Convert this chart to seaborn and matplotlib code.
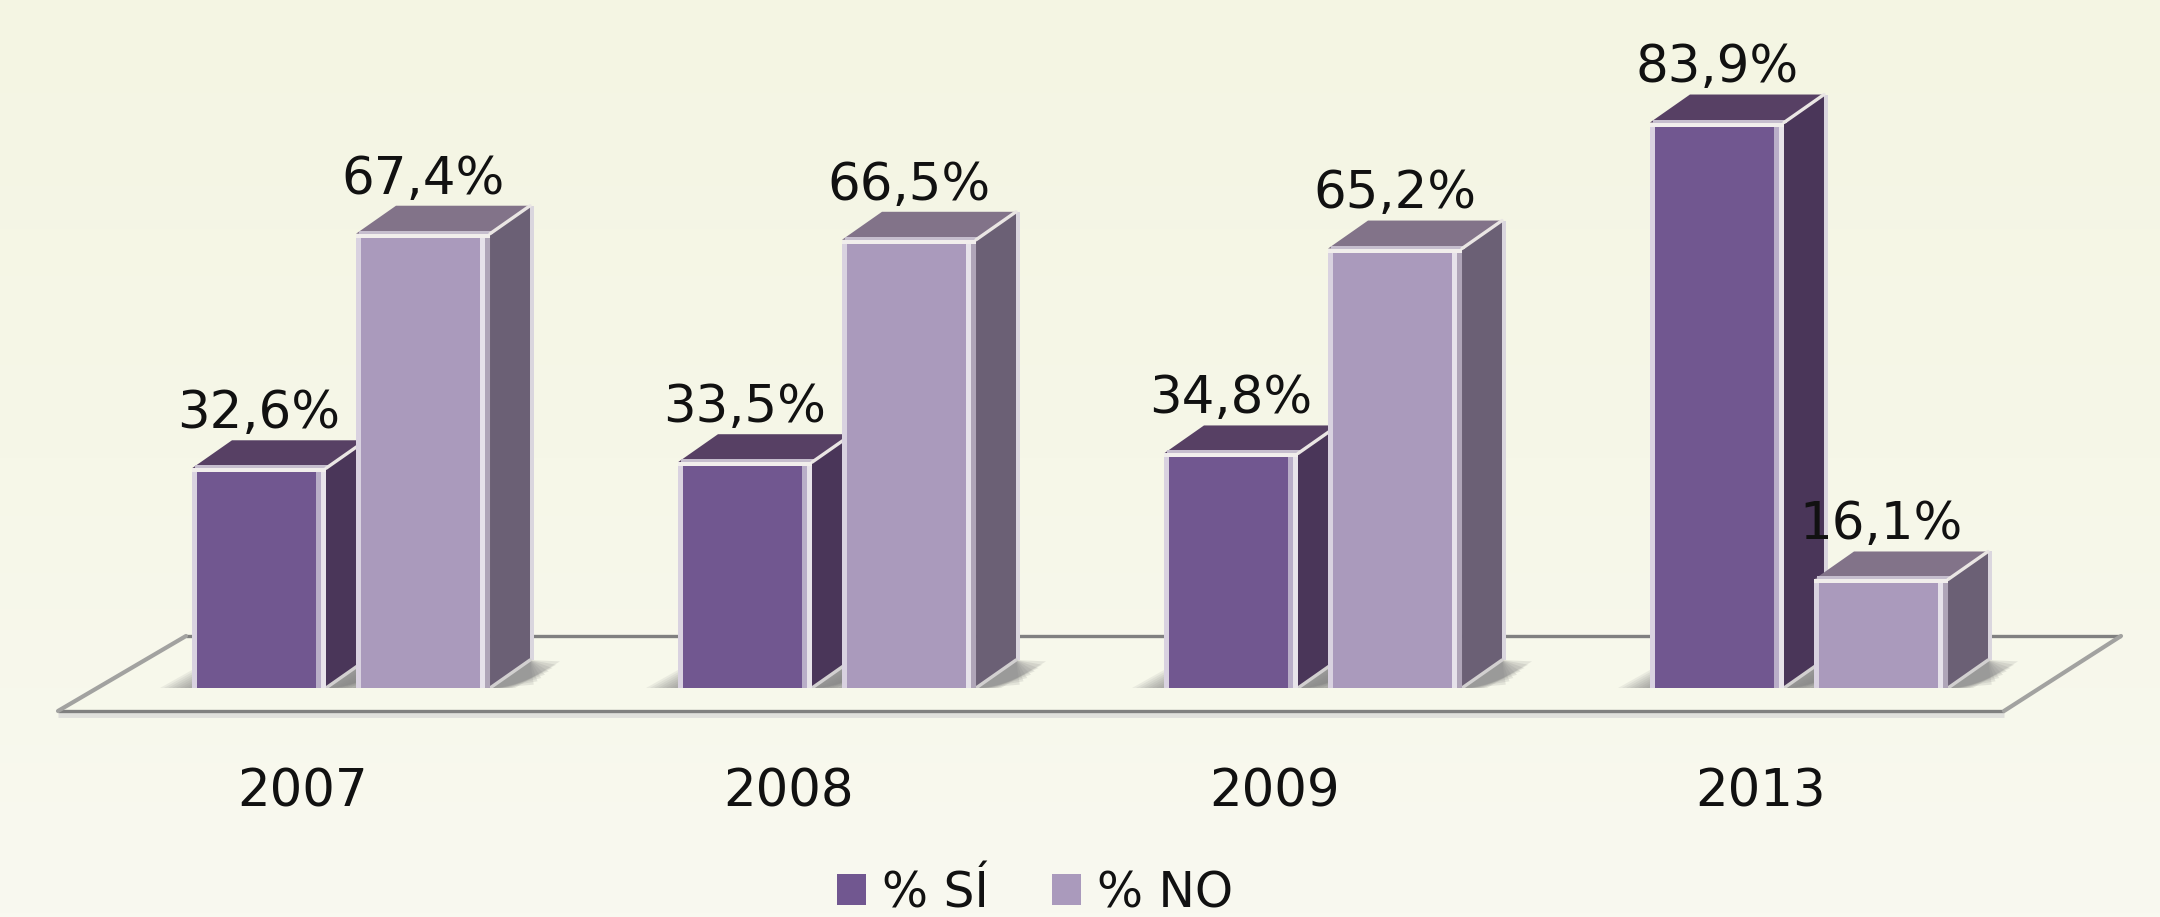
import numpy as np
import pandas as pd
import seaborn as sns
import matplotlib
matplotlib.use("Agg")
import matplotlib.pyplot as plt
from matplotlib.colors import LinearSegmentedColormap
from matplotlib.patches import Polygon, Rectangle

years = ["2007", "2008", "2009", "2013"]
si_values = [32.6, 33.5, 34.8, 83.9]
no_values = [67.4, 66.5, 65.2, 16.1]
series_names = ["% SÍ", "% NO"]

W, H, DPI = 2160, 917, 100
BASE_PX = 688
PX_PER_UNIT = 6.74
PX_PER_CAT = 486
CENTER0_PX = 341
PX = 1 / PX_PER_CAT
PY = 1 / PX_PER_UNIT
DX, DY = 40 * PX, 28 * PY

sns.set_theme(style="white")
plt.rcParams["font.family"] = ["DejaVu Sans"]

df = pd.DataFrame({
    "year": years * 2,
    "value": si_values + no_values,
    "series": [series_names[0]] * 4 + [series_names[1]] * 4,
})

fig = plt.figure(figsize=(W / DPI, H / DPI), dpi=DPI)

# background gradient
bg = fig.add_axes([0, 0, 1, 1], zorder=0)
cmap = LinearSegmentedColormap.from_list("bg", ["#F4F5E3", "#F6F7E8", "#F9F9F0"])
bg.imshow(np.linspace(0, 1, 256)[:, None], cmap=cmap, aspect="auto")
bg.axis("off")

ax = fig.add_axes([0, (H - BASE_PX) / H, 1, BASE_PX / H], zorder=1)
ax.patch.set_alpha(0)

FRONT = {series_names[0]: "#715790", series_names[1]: "#AA9ABC"}
sns.barplot(data=df, x="year", y="value", hue="series", hue_order=series_names,
            palette=FRONT, width=0.675, gap=0.183, saturation=1, linewidth=0,
            ax=ax, legend=True)

ax.set_xlim(-CENTER0_PX / PX_PER_CAT, (W - CENTER0_PX) / PX_PER_CAT)
ax.set_ylim(0, BASE_PX / PX_PER_UNIT)
sns.despine(ax=ax, left=True, bottom=True)
ax.set_ylabel("")
ax.set_xlabel("")
ax.set_yticks([])
ax.grid(False)
ax.set_xticks([i - 38 * PX for i in range(len(years))], years)
ax.tick_params(axis="x", length=0, pad=57, labelsize=37, labelcolor="#111111")


def y_from_px(py):
    return (BASE_PX - py) * PY


def x_from_px(px):
    return (px - CENTER0_PX) * PX


# floor
floor = [(58, 711), (186, 636), (2121, 636), (2004, 711)]
ax.add_patch(Polygon([(x_from_px(a), y_from_px(b)) for a, b in floor], closed=True,
                     facecolor="#F7F8EB", edgecolor="none", zorder=0.5, clip_on=False))
ax.plot([x_from_px(58), x_from_px(2004)], [y_from_px(715)] * 2, color="#E0E0DC", lw=3.5,
        clip_on=False, zorder=0.6, solid_capstyle="butt")
ax.plot([x_from_px(58), x_from_px(2004)], [y_from_px(711)] * 2, color="#808080", lw=2.4,
        clip_on=False, zorder=0.7, solid_capstyle="butt")
ax.plot([x_from_px(186), x_from_px(2121)], [y_from_px(636)] * 2, color="#808080", lw=2.4,
        clip_on=False, zorder=0.7, solid_capstyle="butt")
for a, b in [((58, 711), (186, 636)), ((2004, 711), (2121, 636))]:
    ax.plot([x_from_px(a[0]), x_from_px(b[0])], [y_from_px(a[1]), y_from_px(b[1])],
            color="#A2A2A0", lw=3, clip_on=False, zorder=0.7)

SIDE = ["#4A3659", "#6B6075"]
TOP = ["#574064", "#827389"]
RIGHT_A = ["#B9AEC8", "#E6E2EA"]
RIGHT_B = ["#E8E4EA", "#AFA5B8"]

for s, cont in enumerate(ax.containers):
    base_z = 3 + 2 * s
    for bar in cont:
        x0, w, h = bar.get_x(), bar.get_width(), bar.get_height()
        x1 = x0 + w
        bar.set_zorder(base_z)
        # side and top faces
        ax.add_patch(Polygon([(x1, 0), (x1 + DX, DY), (x1 + DX, h + DY), (x1, h)], closed=True,
                             facecolor=SIDE[s], edgecolor="none", zorder=base_z - 0.2))
        ax.add_patch(Polygon([(x0, h), (x0 + DX, h + DY), (x1 + DX, h + DY), (x1, h)], closed=True,
                             facecolor=TOP[s], edgecolor="none", zorder=base_z - 0.2))
        # shadows at the foot
        for k in range(8):
            f = 1 - k / 8
            ax.add_patch(Polygon([(x1, 0), (x1 + DX, DY), (x1 + DX + 30 * f * PX, DY * f * 0.95),
                                  (x1 + 25 * f * PX, 0)], closed=True,
                                 facecolor="#808080", alpha=0.16, edgecolor="none", zorder=0.8))
            ax.add_patch(Polygon([(x0 - 32 * f * PX, 0), (x0, 18 * f * PY), (x0, 0)], closed=True,
                                 facecolor="#808080", alpha=0.11, edgecolor="none", zorder=0.8))
        # borders of the front face
        ax.add_patch(Rectangle((x0, 0), 5 * PX, h, facecolor="#D9D2E0", edgecolor="none", zorder=base_z + 0.1))
        ax.add_patch(Rectangle((x1 - 10 * PX, 0), 5 * PX, h, facecolor=RIGHT_A[s], edgecolor="none", zorder=base_z + 0.1))
        ax.add_patch(Rectangle((x1 - 5 * PX, 0), 5 * PX, h, facecolor=RIGHT_B[s], edgecolor="none", zorder=base_z + 0.1))
        ax.add_patch(Rectangle((x0, h - 4 * PY), w, 4 * PY, facecolor="#F1EEEC", edgecolor="none", zorder=base_z + 0.15))
        ax.add_patch(Rectangle((x0 + 3 * PX, h), w, 3 * PY, facecolor="#C6BECE", edgecolor="none", zorder=base_z + 0.1))
        ax.add_patch(Rectangle((x1 + DX, 0 + DY), 4 * PX, h, facecolor="#DAD6DE", edgecolor="none", zorder=base_z - 0.1))
        ax.plot([x1, x1 + DX], [h, h + DY], color="#EAE6E4", lw=2.4, zorder=base_z + 0.1)
        ax.plot([x1, x1 + DX], [0, DY], color="#D2D0D0", lw=2.4, zorder=base_z - 0.1)

# value labels
for cont, vals in zip(ax.containers, [si_values, no_values]):
    ax.bar_label(cont, labels=[f"{v:.1f}%".replace(".", ",") for v in vals],
                 padding=21, fontsize=37, color="#111111", zorder=20)

# legend
ax.legend(loc="center left", bbox_to_anchor=(837 / W, (H - 893) / H), bbox_transform=fig.transFigure,
          ncol=2, frameon=False, fontsize=35, handlelength=0.6, handleheight=0.6,
          handletextpad=0.33, columnspacing=1.3, borderpad=0, borderaxespad=0,
          labelcolor="#111111", title=None)

fig.savefig("out.png", dpi=DPI)
